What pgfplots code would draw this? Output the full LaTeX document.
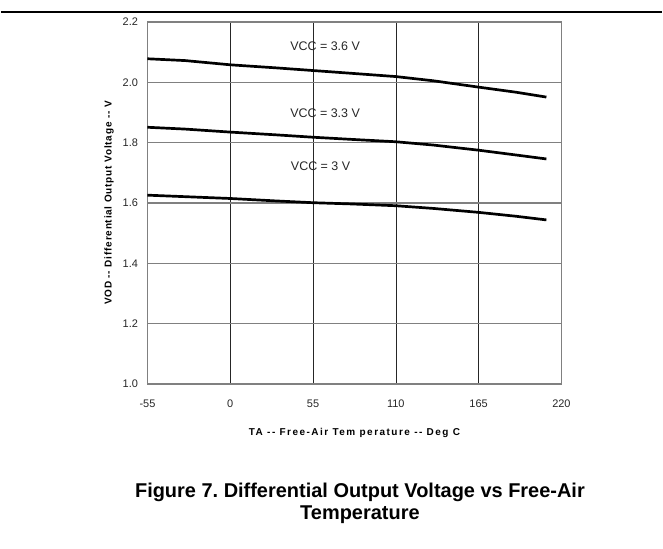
\documentclass[border=0pt]{standalone}
\usepackage{fontspec}
\setmainfont{Liberation Sans}
\usepackage{pgfplots}
\pgfplotsset{compat=1.18}
\frenchspacing

\begin{document}
\begin{tikzpicture}
% page frame (663 x 550)
\path (0pt,0pt) rectangle (663pt,550pt);
\draw[line width=1.6pt] (0pt,538pt) -- (663pt,538pt);

\begin{axis}[
    at={(147pt,165pt)}, anchor=south west,
    scale only axis,
    width=415pt, height=363pt,
    xmin=-55, xmax=220, ymin=1.0, ymax=2.2,
    xtick={-55,0,55,110,165,220},
    ytick={1.0,1.2,...,2.2},
    /pgf/number format/assume math mode=true,
    tick style={draw=none},
    ticklabel style={font=\fontsize{11}{13}\selectfont, text=black!85},
    xticklabel style={yshift=-12pt},
    yticklabel style={/pgf/number format/fixed,
        /pgf/number format/fixed zerofill,
        /pgf/number format/precision=1, xshift=-6pt},
    axis line style={gray, line width=1.2pt},
    xmajorgrids, ymajorgrids,
    x grid style={black!85, line width=0.6pt},
    y grid style={gray, line width=1.1pt},
    xlabel={\addfontfeature{LetterSpace=15}TA -{}- Free-Air Tem perature -{}- Deg C},
    ylabel={\addfontfeature{LetterSpace=8}VOD -{}- Differential Output Voltage -{}- V},
    label style={font=\bfseries\fontsize{10}{12}\selectfont},
    xlabel style={yshift=-14pt},
    ylabel style={yshift=2pt},
    clip=false,
]
% VCC = 3.6 V
\addplot[black, line width=2.7pt] coordinates {
    (-55,2.078) (-30,2.072) (0,2.058) (30,2.048) (55,2.039) (80,2.030)
    (110,2.019) (135,2.005) (165,1.984) (190,1.967) (210,1.951)};
% VCC = 3.3 V
\addplot[black, line width=2.7pt] coordinates {
    (-55,1.851) (-30,1.845) (0,1.835) (30,1.826) (55,1.818) (80,1.811)
    (110,1.803) (135,1.792) (165,1.775) (190,1.759) (210,1.746)};
% VCC = 3 V
\addplot[black, line width=2.7pt] coordinates {
    (-55,1.626) (-30,1.621) (0,1.615) (30,1.607) (55,1.601) (80,1.597)
    (110,1.591) (135,1.582) (165,1.569) (190,1.556) (210,1.544)};

\node[font=\fontsize{12.5}{14}\selectfont, text=black!85] at (axis cs:63,2.121) {VCC = 3.6 V};
\node[font=\fontsize{12.5}{14}\selectfont, text=black!85] at (axis cs:63,1.897) {VCC = 3.3 V};
\node[font=\fontsize{12.5}{14}\selectfont, text=black!85] at (axis cs:60,1.722) {VCC = 3 V};
\end{axis}

\node[font=\bfseries\fontsize{20}{22}\selectfont, align=center, anchor=base] at (360pt,29pt)
  {Figure 7. Differential Output Voltage vs Free-Air\\Temperature};
\end{tikzpicture}
\end{document}
